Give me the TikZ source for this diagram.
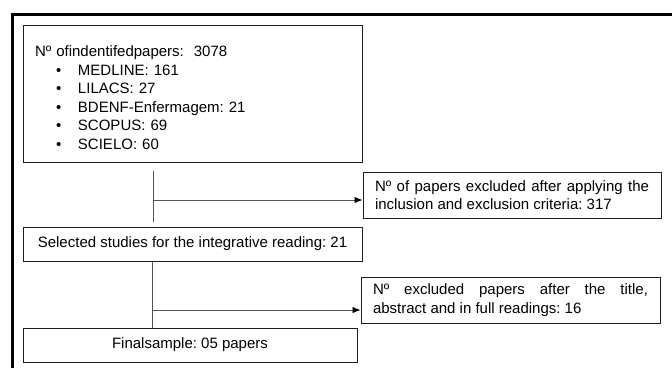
\documentclass[tikz,border=0pt]{standalone}
\usepackage{fontspec}
\setmainfont{Liberation Sans}
\usetikzlibrary{arrows.meta}
\frenchspacing
\newcommand{\dbitem}[1]{\\\hspace*{21pt}\makebox[22pt][l]{•}#1}
\begin{document}
\begin{tikzpicture}[x=1pt, y=-1pt, >={Latex[length=8pt,width=6.5pt,black]}]
    \definecolor{mybox}{RGB}{30,30,30}
    \definecolor{myline}{RGB}{85,85,85}
    \tikzset{flowbox/.style={draw=mybox, line width=1pt, inner ysep=0pt, inner xsep=12pt,
        font=\fontsize{15}{18.6}\selectfont}}
    \tikzset{flowline/.style={draw=myline, line width=0.8pt}}

    \useasboundingbox (0,0) rectangle (672,368);
    \draw[line width=3pt] (12.5,368) -- (12.5,14) -- (672,14);

    \node[flowbox, text width=315pt, minimum height=137pt, align=left] (ident) at (192.5,93.5)
        {\rule{0pt}{19pt}Nº ofindentifedpapers:\ \ 3078\dbitem{MEDLINE: 161}\dbitem{LILACS: 27}\dbitem{BDENF-Enfermagem: 21}\dbitem{SCOPUS: 69}\dbitem{SCIELO: 60}};
    \node[flowbox, text width=274pt, minimum height=46pt, align=justify] (excl1) at (512,195)
        {Nº of papers excluded after applying the inclusion and exclusion criteria: 317};
    \node[flowbox, minimum width=339pt, minimum height=34pt] (selected) at (192.5,244)
        {Selected studies for the integrative reading: 21};
    \node[flowbox, text width=275pt, minimum height=46pt, align=justify] (excl2) at (510.5,300)
        {Nº excluded papers after the title,\linebreak abstract and in full readings: 16};
    \node[flowbox, minimum width=334pt, minimum height=34pt] (final) at (190,345)
        {Finalsample: 05 papers};

    \coordinate (split1) at (153,200);
    \coordinate (split2) at (152,310);
    \draw[flowline, shorten <=8pt, shorten >=5pt] (split1 |- ident.south) -- (split1 |- selected.north);
    \draw[flowline, ->] (split1) -- (split1 -| excl1.west);
    \draw[flowline] (split2 |- selected.south) -- (split2 |- final.north);
    \draw[flowline, ->] (split2) -- (split2 -| excl2.west);
\end{tikzpicture}
\end{document}
